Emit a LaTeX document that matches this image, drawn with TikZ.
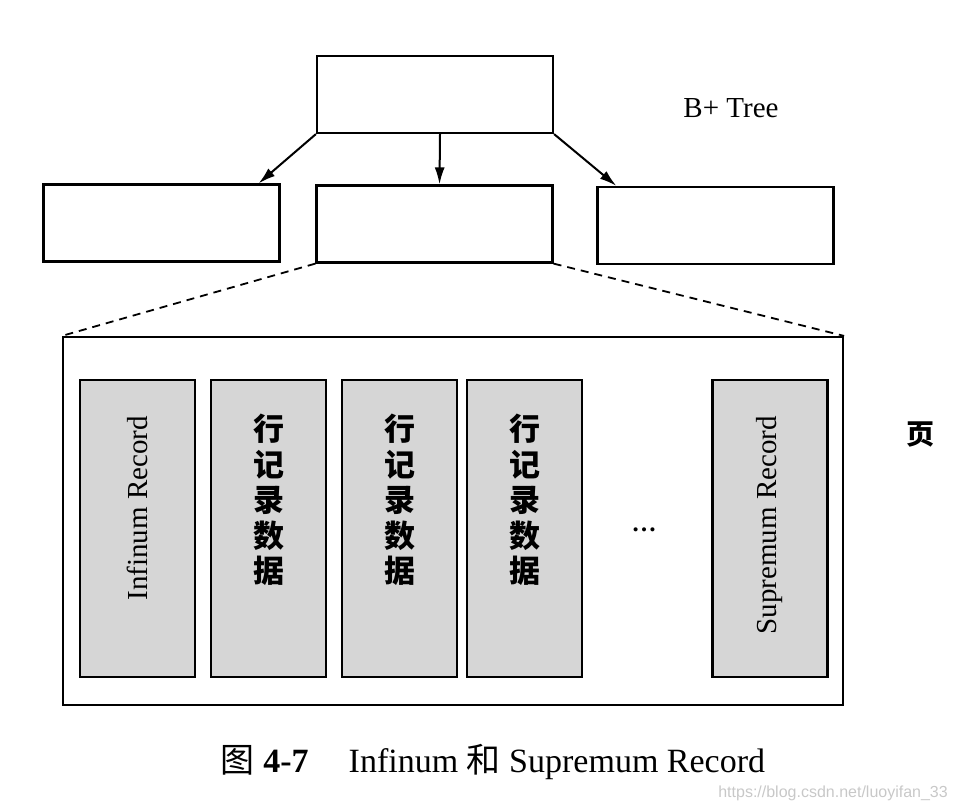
\documentclass[tikz,border=0pt]{standalone}
\usepackage{fontspec}
\setmainfont{Liberation Serif}
\newfontfamily\cjk{Noto Sans CJK SC}
\newfontfamily\wmfont{Liberation Sans}
\usepackage{xcolor}
\usetikzlibrary{arrows.meta}
\usetikzlibrary{calc, math}
\definecolor{recgray}{RGB}{214,214,214}
\definecolor{wmgray}{RGB}{200,200,200}

\tikzset{
treebox/.style={draw, line width=2.2pt, minimum width=236pt, minimum height=77pt, inner sep=0pt},
recbox/.style={draw, line width=2.2pt, fill=recgray, minimum width=115pt, minimum height=297pt, inner sep=0pt},
childarrow/.style={-{Latex[length=17pt,width=10pt]}, line width=2pt},
zoomline/.style={dash pattern=on 8pt off 6pt, line width=1.8pt},
reclabel/.style={inner sep=0pt, font=\fontsize{29}{34}\selectfont},
cjklabel/.style={inner sep=0pt, align=center, font=\cjk\bfseries\fontsize{31}{35.5}\selectfont},
}

\begin{document}
\begin{tikzpicture}[x=1pt,y=-1pt]
\tikzmath{
\ry=528.5;
\dy=35;
}
\useasboundingbox (0,0) rectangle (958,801);

% B+ tree
\node[treebox] (root) at (435,94.5) {};
\node[treebox] (leftleaf) at (161.5,223) {};
\node[treebox] (midleaf) at (434.5,224) {};
\node[treebox] (rightleaf) at (715.5,225.5) {};
\node[font=\fontsize{29}{34}\selectfont] (treetitle) at (731,108) {B+ Tree};

\draw[childarrow] (root.south west) -- ($(leftleaf.north east)+(-22,0)$);
\draw[childarrow] ($(root.south)+(5,0)$) -- ($(midleaf.north)+(5,0)$);
\draw[childarrow] (root.south east) -- ($(rightleaf.north west)+(20,0)$);

% page
\node[draw, line width=2.2pt, minimum width=780pt, minimum height=368pt, inner sep=0pt] (page) at (453,521) {};
\node[font=\cjk\bfseries\fontsize{28}{28}\selectfont] (pagetitle) at (920,434) {页};
\draw[zoomline] (midleaf.south west) -- (page.north west);
\draw[zoomline] (midleaf.south east) -- (page.north east);

\node[recbox] (infimum) at (137.5,\ry) {};
\node[reclabel, rotate=90, anchor=east] (infimumtext) at ($(infimum.north)+(0,37)$) {Infinum Record};

\foreach \x/\n in {268.5/rowa, 399.5/rowb, 524.5/rowc}{
\node[recbox] (\n) at (\x,\ry) {};
\node[cjklabel, anchor=north] (\n text) at ($(\n.north)+(0,\dy)$) {行\\记\\录\\数\\据};
}

\node[anchor=base, inner sep=0pt, font=\bfseries\fontsize{25}{25}\selectfont] (dots) at (644,531) {…};

\node[recbox] (supremum) at (770,\ry) {};
\node[reclabel, rotate=90, anchor=east] (supremumtext) at ($(supremum.north)+(0,37)$) {Supremum Record};

% caption
\node[anchor=base, inner sep=0pt, font=\fontsize{34}{34}\selectfont] (caption) at (493,772)
{{\cjk 图} \textbf{4-7}\hspace{40pt}Infinum {\cjk 和} Supremum Record};
\node[anchor=base east, inner sep=0pt, text=wmgray, font=\wmfont\fontsize{16}{16}\selectfont] (watermark) at (948,797) {https://blog.csdn.net/luoyifan\_33};
\end{tikzpicture}
\end{document}
